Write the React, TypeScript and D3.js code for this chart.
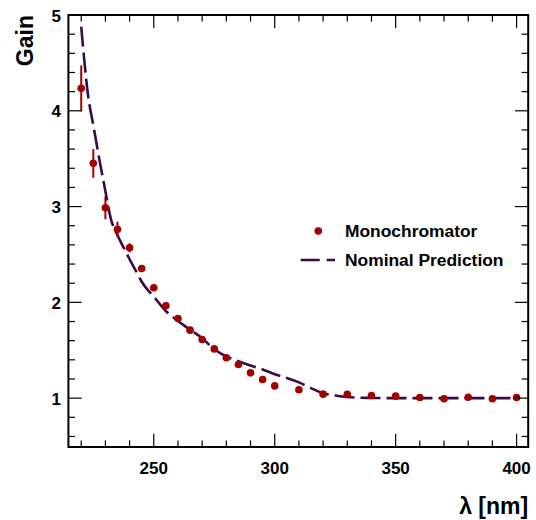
import React from "react";
import * as d3 from "d3";

// Monochromator measurements
const monoWavelength = [220, 225, 230, 235, 240, 245, 250, 255, 260, 265, 270, 275, 280, 285, 290, 295, 300, 310, 320, 330, 340, 350, 360, 370, 380, 390, 400];
const monoGain = [4.234, 3.451, 2.987, 2.762, 2.57, 2.354, 2.152, 1.964, 1.832, 1.71, 1.613, 1.514, 1.421, 1.352, 1.264, 1.195, 1.128, 1.087, 1.042, 1.039, 1.028, 1.021, 1.007, 0.993, 1.01, 0.993, 1.007];
const monoError = [0.24, 0.15, 0.12, 0.08, 0.047, 0.03, 0.02, 0.02, 0.02, 0.02, 0.02, 0.02, 0.02, 0.02, 0.02, 0.02, 0.02, 0.02, 0.02, 0.02, 0.02, 0.02, 0.02, 0.02, 0.02, 0.02, 0.02];

// Nominal prediction
const predWavelength = [220, 222.9, 225, 227.8, 230, 232.2, 235, 238, 240, 243, 245, 250, 255, 260, 265, 270, 275, 280, 285, 290, 295, 300, 305, 310, 315, 320, 325, 330, 335, 340, 350, 360, 370, 380, 390, 400];
const predGain = [4.878, 4.147, 3.85, 3.451, 3.16, 2.877, 2.70, 2.55, 2.45, 2.31, 2.215, 2.06, 1.91, 1.805, 1.715, 1.625, 1.51, 1.435, 1.385, 1.34, 1.30, 1.25, 1.21, 1.165, 1.105, 1.05, 1.028, 1.012, 1.004, 1.002, 1.0, 1.0, 1.0, 1.0, 1.0, 1.0];

const xMajorTicks = [250, 300, 350, 400];
const yMajorTicks = [1, 2, 3, 4, 5];
const legendLabels = ["Monochromator", "Nominal Prediction"];
const xTitle = "λ [nm]";
const yTitle = "Gain";

const W = 536;
const H = 520;
const L = 68.4, R = 528.2, T = 15, B = 447;
const RED = "#a30000";
const PURPLE = "#3a0a45";
const FONT = "'Liberation Sans', Arial, Helvetica, sans-serif";

export default function App() {
  const x = d3.scaleLinear().domain([214.7, 404.8]).range([L, R]);
  const y = d3.scaleLinear().domain([0.49, 5.0]).range([B, T]);

  const xMinor = d3.range(220, 401, 10).filter((v) => !xMajorTicks.includes(v));
  const yMinor = d3.range(6, 50, 2).map((v) => v / 10).filter((v) => !yMajorTicks.some((m) => Math.abs(m - v) < 1e-6));

  const pred = predWavelength.map((w, i) => [w, predGain[i]] as [number, number]);
  const line = d3.line<[number, number]>().x((d) => x(d[0])).y((d) => y(d[1])).curve(d3.curveMonotoneX);

  const maj = 13.3;
  const min = 6.6;

  return (
    <svg width={W} height={H} style={{ position: "absolute", left: 0, top: 0, background: "#fff" }} fontFamily={FONT}>
      <rect x={0} y={0} width={W} height={H} fill="#fff" />
      {/* data line */}
      <path d={line(pred) || ""} fill="none" stroke={PURPLE} strokeWidth={2.6} strokeDasharray="20,6" />
      {/* error bars */}
      {monoWavelength.map((w, i) => (
        <line key={"e" + i} x1={x(w)} x2={x(w)} y1={y(monoGain[i] - monoError[i])} y2={y(monoGain[i] + monoError[i])} stroke={RED} strokeWidth={2} />
      ))}
      {monoWavelength.map((w, i) => (
        <circle key={"p" + i} cx={x(w)} cy={y(monoGain[i])} r={3.8} fill={RED} />
      ))}
      {/* ticks */}
      <g stroke="#000" strokeWidth={1.2}>
        {xMajorTicks.map((v) => (
          <g key={"xM" + v}>
            <line x1={x(v)} x2={x(v)} y1={B} y2={B - maj} />
            <line x1={x(v)} x2={x(v)} y1={T} y2={T + maj} />
          </g>
        ))}
        {xMinor.map((v) => (
          <g key={"xm" + v}>
            <line x1={x(v)} x2={x(v)} y1={B} y2={B - min} />
            <line x1={x(v)} x2={x(v)} y1={T} y2={T + min} />
          </g>
        ))}
        {yMajorTicks.map((v) => (
          <g key={"yM" + v}>
            <line x1={L} x2={L + maj} y1={y(v)} y2={y(v)} />
            <line x1={R} x2={R - maj} y1={y(v)} y2={y(v)} />
          </g>
        ))}
        {yMinor.map((v) => (
          <g key={"ym" + v}>
            <line x1={L} x2={L + min} y1={y(v)} y2={y(v)} />
            <line x1={R} x2={R - min} y1={y(v)} y2={y(v)} />
          </g>
        ))}
      </g>
      {/* frame */}
      <rect x={L} y={T} width={R - L} height={B - T} fill="none" stroke="#000" strokeWidth={2} />
      {/* tick labels */}
      {xMajorTicks.map((v) => (
        <text key={"xl" + v} x={x(v)} y={473.5} textAnchor="middle" fontSize={17} fontWeight="bold" fill="#000">
          {v}
        </text>
      ))}
      {yMajorTicks.map((v) => (
        <text key={"yl" + v} x={61} y={y(v) + 6.5} textAnchor="end" fontSize={17} fontWeight="bold" fill="#000">
          {v}
        </text>
      ))}
      {/* axis titles */}
      <text x={R} y={514} textAnchor="end" fontSize={23} fontWeight="bold" fill="#000">
        {xTitle}
      </text>
      <text transform={`translate(33,${T}) rotate(-90)`} textAnchor="end" fontSize={23} fontWeight="bold" fill="#000">
        {yTitle}
      </text>
      {/* legend */}
      <circle cx={318.3} cy={231} r={3.8} fill={RED} />
      <text x={345} y={236.8} fontSize={17.4} fontWeight="bold" fill="#000">
        {legendLabels[0]}
      </text>
      <line x1={300.7} x2={335} y1={260} y2={260} stroke={PURPLE} strokeWidth={2.6} strokeDasharray="19,7" />
      <text x={345} y={265.5} fontSize={17.4} fontWeight="bold" fill="#000">
        {legendLabels[1]}
      </text>
    </svg>
  );
}
